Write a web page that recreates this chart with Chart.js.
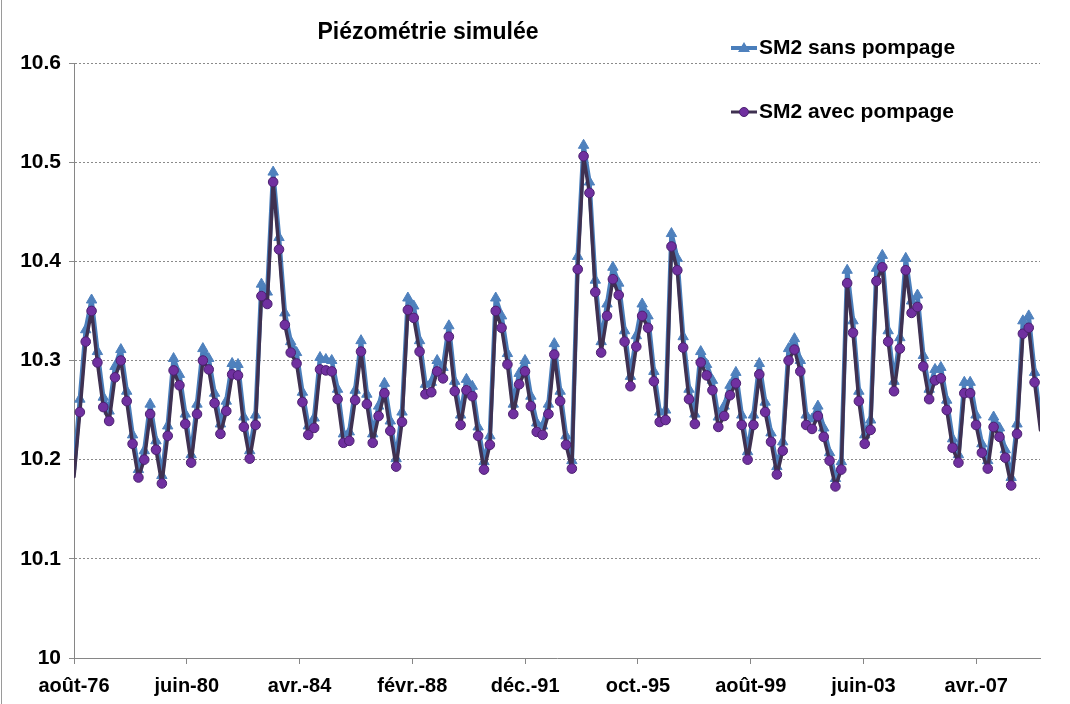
<!DOCTYPE html>
<html>
<head>
<meta charset="utf-8">
<script src="https://cdn.jsdelivr.net/npm/chart.js@4"></script>
<style>
  html, body { margin: 0; padding: 0; background: #fff; }
  canvas { display: block; }
</style>
</head>
<body>
<canvas id="chart" width="1070" height="704"></canvas>
<script>
const chartTitle = 'Piézométrie simulée';
const seriesNames = ['SM2 sans pompage', 'SM2 avec pompage'];

// one sample every ~2.39 months, from août-76 to mid-2009
const monthsPerSample = 2.389;

const sansPompage = [
  10.190, 10.261, 10.331, 10.361, 10.309, 10.263, 10.249, 10.294, 10.311, 10.269, 10.225,
  10.190, 10.209, 10.256, 10.219, 10.184, 10.234, 10.302, 10.286, 10.246, 10.205,
  10.256, 10.312, 10.302, 10.267, 10.236, 10.259, 10.297, 10.296, 10.243, 10.209,
  10.245, 10.377, 10.369, 10.490, 10.424, 10.348, 10.319, 10.308, 10.268, 10.234,
  10.242, 10.303, 10.301, 10.300, 10.271, 10.226, 10.228, 10.270, 10.320, 10.266,
  10.226, 10.254, 10.277, 10.239, 10.201, 10.248, 10.363, 10.355, 10.320, 10.276,
  10.278, 10.300, 10.293, 10.335, 10.279, 10.245, 10.281, 10.274, 10.233, 10.198,
  10.224, 10.363, 10.345, 10.307, 10.256, 10.287, 10.300, 10.264, 10.237, 10.234,
  10.256, 10.317, 10.269, 10.224, 10.199, 10.405, 10.517, 10.480, 10.381, 10.319,
  10.357, 10.394, 10.378, 10.330, 10.284, 10.325, 10.357, 10.345, 10.289, 10.248,
  10.250, 10.428, 10.403, 10.324, 10.271, 10.246, 10.309, 10.296, 10.280, 10.243,
  10.254, 10.275, 10.288, 10.245, 10.208, 10.245, 10.297, 10.258, 10.227, 10.193,
  10.218, 10.312, 10.322, 10.300, 10.245, 10.241, 10.254, 10.232, 10.207, 10.181,
  10.198, 10.391, 10.340, 10.269, 10.225, 10.240, 10.393, 10.406, 10.330, 10.279,
  10.323, 10.403, 10.360, 10.366, 10.305, 10.271, 10.291, 10.293, 10.260, 10.221,
  10.205, 10.278, 10.278, 10.245, 10.216, 10.199, 10.243, 10.232, 10.210, 10.182,
  10.236, 10.340, 10.345, 10.288, 10.240
];

const avecPompage = [
  10.183, 10.248, 10.319, 10.350, 10.298, 10.253, 10.239, 10.283, 10.300, 10.259, 10.216,
  10.182, 10.200, 10.246, 10.210, 10.176, 10.224, 10.290, 10.275, 10.236, 10.197,
  10.246, 10.300, 10.291, 10.257, 10.226, 10.249, 10.286, 10.285, 10.233, 10.201,
  10.235, 10.365, 10.357, 10.480, 10.412, 10.336, 10.308, 10.297, 10.258, 10.225,
  10.232, 10.291, 10.290, 10.289, 10.261, 10.217, 10.219, 10.260, 10.309, 10.256,
  10.217, 10.244, 10.267, 10.229, 10.193, 10.238, 10.351, 10.343, 10.309, 10.266,
  10.268, 10.289, 10.282, 10.324, 10.269, 10.235, 10.270, 10.264, 10.224, 10.190,
  10.215, 10.350, 10.333, 10.296, 10.246, 10.276, 10.289, 10.254, 10.228, 10.225,
  10.246, 10.306, 10.259, 10.215, 10.191, 10.392, 10.506, 10.469, 10.369, 10.308,
  10.345, 10.382, 10.366, 10.319, 10.274, 10.314, 10.345, 10.333, 10.279, 10.238,
  10.240, 10.415, 10.391, 10.313, 10.261, 10.236, 10.298, 10.285, 10.270, 10.233,
  10.244, 10.265, 10.277, 10.235, 10.200, 10.235, 10.286, 10.248, 10.218, 10.185,
  10.209, 10.300, 10.311, 10.289, 10.235, 10.231, 10.244, 10.223, 10.199, 10.173,
  10.190, 10.378, 10.328, 10.259, 10.216, 10.230, 10.380, 10.394, 10.319, 10.269,
  10.312, 10.391, 10.348, 10.354, 10.294, 10.261, 10.280, 10.282, 10.250, 10.212,
  10.197, 10.267, 10.267, 10.235, 10.207, 10.191, 10.233, 10.223, 10.202, 10.174,
  10.226, 10.327, 10.333, 10.278, 10.230
];

const xTickMonths = [0, 46, 92, 138, 184, 230, 276, 322, 368];
const xTickLabels = ['août-76', 'juin-80', 'avr.-84', 'févr.-88', 'déc.-91', 'oct.-95', 'août-99', 'juin-03', 'avr.-07'];
const yTickValues = [10, 10.1, 10.2, 10.3, 10.4, 10.5, 10.6];
const yTickLabels = ['10', '10.1', '10.2', '10.3', '10.4', '10.5', '10.6'];

const toPoints = arr => arr.map((v, i) => ({ x: i * monthsPerSample, y: v }));
const lastIdx = avecPompage.length - 1;
const edgeRadius = r => ctx => (ctx.dataIndex === 0 || ctx.dataIndex === lastIdx) ? 0 : r;

const blue = '#4A7EBB';
const blueMarker = '#4F81BD';
const darkPurple = '#3F3151';
const purple = '#7030A0';

const FONT = 'Liberation Sans, Arial, sans-serif';

function legendMarker(ctx, style, x, y) {
  ctx.save();
  if (style === 'triangle') {
    ctx.fillStyle = blueMarker;
    ctx.beginPath();
    ctx.moveTo(x, y - 6);
    ctx.lineTo(x + 6, y + 4);
    ctx.lineTo(x - 6, y + 4);
    ctx.closePath();
    ctx.fill();
  } else {
    ctx.fillStyle = purple;
    ctx.strokeStyle = '#4B2070';
    ctx.lineWidth = 1;
    ctx.beginPath();
    ctx.arc(x, y, 4.5, 0, Math.PI * 2);
    ctx.fill();
    ctx.stroke();
  }
  ctx.restore();
}

const decorations = {
  id: 'decorations',
  afterDraw(chart) {
    const ctx = chart.ctx;
    ctx.save();
    // frame line on the left edge
    ctx.strokeStyle = '#9a9a9a';
    ctx.lineWidth = 1;
    ctx.beginPath();
    ctx.moveTo(1.5, 0);
    ctx.lineTo(1.5, chart.height);
    ctx.stroke();

    ctx.fillStyle = '#000';
    ctx.font = 'bold 23px ' + FONT;
    ctx.textAlign = 'center';
    ctx.textBaseline = 'middle';
    ctx.fillText(chartTitle, 428, 33);

    const items = [
      { name: seriesNames[0], color: blue, width: 4, style: 'triangle', y: 48 },
      { name: seriesNames[1], color: darkPurple, width: 3, style: 'circle', y: 112 }
    ];
    items.forEach(it => {
      ctx.strokeStyle = it.color;
      ctx.lineWidth = it.width;
      ctx.beginPath();
      ctx.moveTo(731, it.y);
      ctx.lineTo(757, it.y);
      ctx.stroke();
      legendMarker(ctx, it.style, 744, it.y);
      ctx.fillStyle = '#000';
      ctx.font = 'bold 21px ' + FONT;
      ctx.textAlign = 'left';
      ctx.textBaseline = 'middle';
      ctx.fillText(it.name, 759, it.y);
    });
    ctx.restore();
  }
};

new Chart(document.getElementById('chart'), {
  type: 'line',
  data: {
    datasets: [
      {
        label: seriesNames[0],
        data: toPoints(sansPompage),
        borderColor: blue,
        borderWidth: 4.5,
        borderJoinStyle: 'round',
        borderCapStyle: 'round',
        pointStyle: 'triangle',
        pointRadius: edgeRadius(6),
        pointBackgroundColor: blueMarker,
        pointBorderColor: blueMarker,
        pointBorderWidth: 1,
        tension: 0,
        order: 2
      },
      {
        label: seriesNames[1],
        data: toPoints(avecPompage),
        borderColor: darkPurple,
        borderWidth: 3.5,
        borderJoinStyle: 'round',
        borderCapStyle: 'round',
        pointStyle: 'circle',
        pointRadius: edgeRadius(4.8),
        pointBackgroundColor: purple,
        pointBorderColor: '#4B2070',
        pointBorderWidth: 1,
        tension: 0,
        order: 1
      }
    ]
  },
  options: {
    responsive: false,
    animation: false,
    layout: { padding: { top: 63, right: 30, left: 0, bottom: 0 } },
    plugins: {
      legend: { display: false },
      title: { display: false },
      tooltip: { enabled: false }
    },
    scales: {
      x: {
        type: 'linear',
        min: 0,
        max: 394,
        afterFit: s => { s.height = 46; },
        afterBuildTicks: s => { s.ticks = xTickMonths.map(v => ({ value: v })); },
        ticks: {
          autoSkip: false,
          maxRotation: 0,
          padding: 10,
          color: '#000',
          font: { family: FONT, size: 20, weight: 'bold' },
          callback: (v) => xTickLabels[xTickMonths.indexOf(v)]
        },
        grid: { drawOnChartArea: false, drawTicks: true, tickLength: 6, color: '#868686' },
        border: { color: '#868686', width: 1 }
      },
      y: {
        min: 10,
        max: 10.6,
        afterFit: s => { s.width = 74; },
        afterBuildTicks: s => { s.ticks = yTickValues.map(v => ({ value: v })); },
        ticks: {
          padding: 8,
          color: '#000',
          font: { family: FONT, size: 21, weight: 'bold' },
          callback: (v) => yTickLabels[yTickValues.findIndex(t => Math.abs(t - v) < 1e-9)]
        },
        grid: { color: '#8a8a8a', lineWidth: 1, tickLength: 5, tickBorderDash: [] },
        border: { color: '#868686', width: 1, dash: [2, 2] }
      }
    }
  },
  plugins: [decorations]
});
</script>
</body>
</html>
